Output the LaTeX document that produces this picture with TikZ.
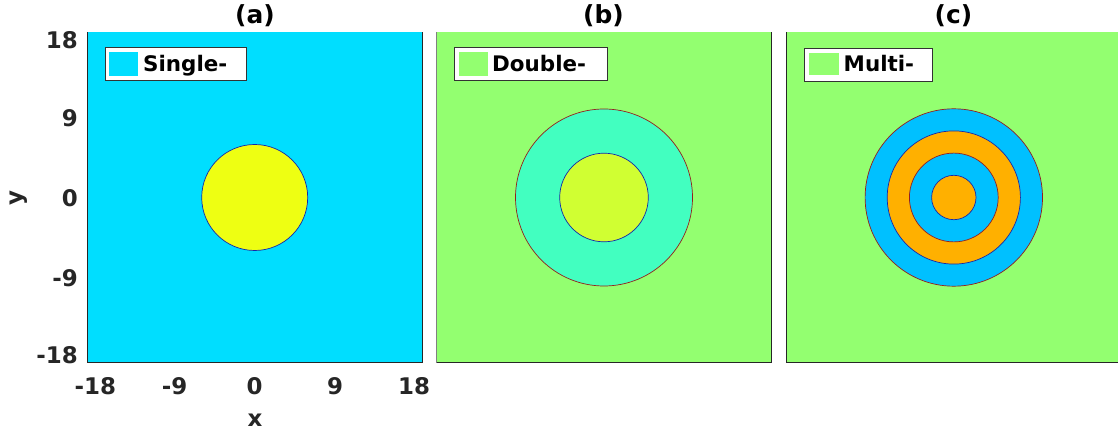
\documentclass[tikz,border=0pt]{standalone}
\usepackage{fontspec}
\setmainfont{DejaVu Sans}
\definecolor{cyanA}{RGB}{0,222,255}
\definecolor{yellowA}{RGB}{238,255,18}
\definecolor{greenBG}{RGB}{147,255,112}
\definecolor{tealB}{RGB}{66,255,192}
\definecolor{limeB}{RGB}{208,255,50}
\definecolor{blueC}{RGB}{0,192,255}
\definecolor{orangeC}{RGB}{255,176,0}
\definecolor{edgeblue}{RGB}{20,40,170}
\definecolor{edgered}{RGB}{150,30,30}
\definecolor{axisgray}{RGB}{38,38,38}
\begin{document}
\begin{tikzpicture}[x=1bp,y=-1bp,
  tick/.style={font=\fontsize{23}{27}\selectfont\bfseries, text=axisgray, inner sep=0},
  ttl/.style={font=\fontsize{25}{30}\selectfont\bfseries, text=black, inner sep=0, anchor=base},
  leg/.style={font=\fontsize{21.5}{25}\selectfont\bfseries, text=black, inner sep=0, anchor=base west},
  legbox/.style={draw=black!80, fill=white, line width=1bp},
  axline/.style={draw=axisgray, line width=1bp},
  ring/.style={line width=0.7bp}]
\useasboundingbox (0,0) rectangle (1118,435);

% ---------- panel (a)
\fill[cyanA] (87,32) rectangle (422,363);
\draw[ring, draw=edgeblue, fill=yellowA] (254.7,197.5) circle[radius=53];
\draw[axline] (87,32) -- (87,363) -- (422,363) -- (422,32);
\draw[legbox] (105.3,47.3) rectangle (246.7,80.7);
\fill[cyanA] (109,51.7) rectangle (137.7,75.7);
\node[leg] (la) at (143,71.5) {Single-};
\node[ttl] (ta) at (255,24) {(a)};

% ---------- panel (b)
\fill[greenBG] (436.5,32) rectangle (771.7,363);
\draw[ring, draw=edgered, fill=tealB] (604,197.5) circle[radius=88.5];
\draw[ring, draw=edgeblue, fill=limeB] (604,197.5) circle[radius=44.3];
\draw[draw=gray, line width=1bp] (436.5,32) -- (436.5,363);
\draw[axline] (436.5,363) -- (771.7,363) -- (771.7,32);
\draw[legbox] (454.7,47.3) rectangle (607.3,81);
\fill[greenBG] (459.3,51.7) rectangle (488.3,75.7);
\node[leg] (lb) at (492,71.5) {Double-};
\node[ttl] (tb) at (603.5,24) {(b)};

% ---------- panel (c)
\fill[greenBG] (786.3,32) rectangle (1117.5,363);
\draw[ring, draw=edgered, fill=blueC] (953.8,197.5) circle[radius=88.7];
\draw[ring, draw=edgeblue, fill=orangeC] (953.8,197.5) circle[radius=66.6];
\draw[ring, draw=edgered, fill=blueC] (953.8,197.5) circle[radius=44.4];
\draw[ring, draw=edgeblue, fill=orangeC] (953.8,197.5) circle[radius=22.2];
\draw[axline] (786.3,32) -- (786.3,363) -- (1117.5,363);
\draw[legbox] (804.3,48.3) rectangle (932.3,81.7);
\fill[greenBG] (809.3,52.7) rectangle (839,75.5);
\node[leg] (lc) at (843.5,71.5) {Multi-};
\node[ttl] (tc) at (953.5,24) {(c)};

% ---------- y ticks
\node[tick, anchor=base east] (y18) at (78,48.3) {18};
\node[tick, anchor=base east] (y9) at (78,126.7) {9};
\node[tick, anchor=base east] (y0) at (78,206.7) {0};
\node[tick, anchor=base east] (ym9) at (78,286.7) {-9};
\node[tick, anchor=base east] (ym18) at (78,363.3) {-18};
% ---------- x ticks
\node[tick, anchor=base] (xm18) at (95.3,395) {-18};
\node[tick, anchor=base] (xm9) at (174.5,395) {-9};
\node[tick, anchor=base] (x0) at (254.5,395) {0};
\node[tick, anchor=base] (x9) at (335,395) {9};
\node[tick, anchor=base] (x18) at (414,395) {18};
% ---------- axis labels
\node[tick, anchor=base] (xl) at (255,426.7) {x};
\node[tick, anchor=base, rotate=90] (yl) at (22,198) {y};
\end{tikzpicture}
\end{document}
